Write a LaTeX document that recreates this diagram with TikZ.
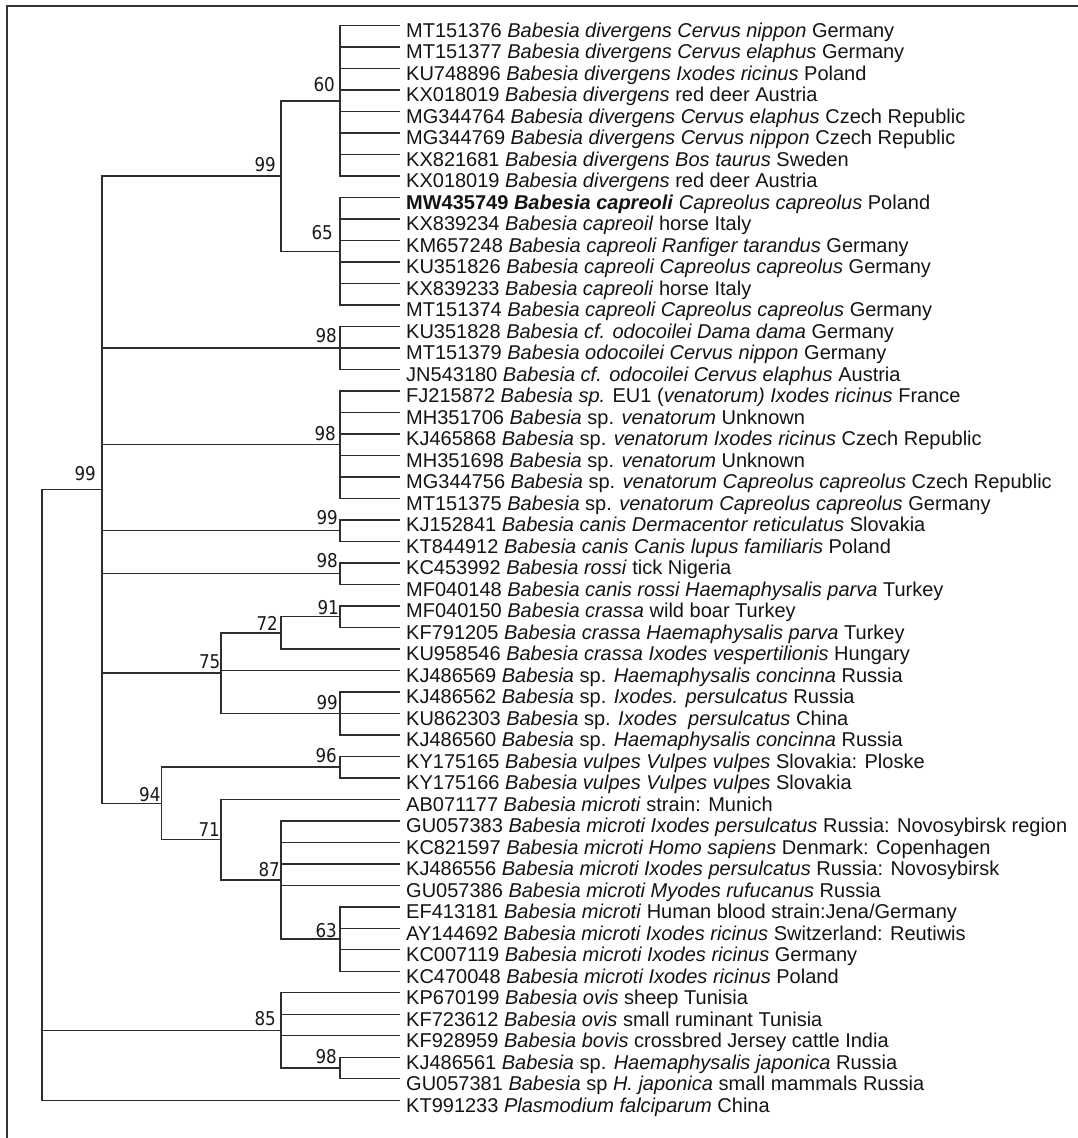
\documentclass[tikz,border=0pt]{standalone}
\usepackage{fontspec}
\setmainfont{Liberation Sans}
\newfontfamily\bsfont[FakeStretch=0.88]{DejaVu Sans}
\begin{document}
\begin{tikzpicture}[x=1pt,y=-1pt,
  br/.style={draw=black!82, line width=1.4pt, line cap=rect},
  leaf/.style={anchor=base west, inner sep=0pt, font=\fontsize{20}{24}\selectfont, text=black!92},
  bs/.style={anchor=south east, inner sep=0pt, font=\bsfont\fontsize{19}{22}\selectfont, text=black!90},
  frameline/.style={draw=black!80, line width=1.3pt}]
\useasboundingbox (0,0) rectangle (1078,1138);
\draw[frameline] (7,1138) -- (7,6) -- (1078,6);
% internal nodes
\coordinate (root) at (42,794.98);
\coordinate (n99a) at (102,489.75);
\coordinate (n99b) at (281,176.13);
\coordinate (n60) at (340,100.9);
\coordinate (n65) at (340,251.35);
\coordinate (n98a) at (340,348.05);
\coordinate (n98b) at (340,444.76);
\coordinate (n99c) at (340,530.72);
\coordinate (n98c) at (340,573.7);
\coordinate (n75) at (221,673.09);
\coordinate (n72) at (281,632.8);
\coordinate (n91) at (340,616.68);
\coordinate (n99d) at (340,713.38);
\coordinate (n94) at (161.7,803.37);
\coordinate (n96) at (340,767.1);
\coordinate (n71) at (221,839.63);
\coordinate (n87) at (281,879.93);
\coordinate (n63) at (340,939.03);
\coordinate (n85) at (281,1030.36);
\coordinate (n98d) at (340,1067.97);
% internal edges
\foreach \p/\c in {root/n99a, root/n85, n99a/n99b, n99a/n98a, n99a/n98b, n99a/n99c, n99a/n98c, n99a/n75, n99a/n94,
  n99b/n60, n99b/n65, n75/n72, n75/n99d, n72/n91, n94/n96, n94/n71, n71/n87, n87/n63, n85/n98d}
  \draw[br] (\p) |- (\c);
% leaves
\foreach \i/\p/\t in {
 1/n60/{MT151376 \textit{Babesia divergens Cervus nippon} Germany},
 2/n60/{MT151377 \textit{Babesia divergens Cervus elaphus} Germany},
 3/n60/{KU748896 \textit{Babesia divergens Ixodes ricinus} Poland},
 4/n60/{KX018019 \textit{Babesia divergens} red deer Austria},
 5/n60/{MG344764 \textit{Babesia divergens Cervus elaphus} Czech Republic},
 6/n60/{MG344769 \textit{Babesia divergens Cervus nippon} Czech Republic},
 7/n60/{KX821681 \textit{Babesia divergens Bos taurus} Sweden},
 8/n60/{KX018019 \textit{Babesia divergens} red deer Austria},
 9/n65/{\textbf{MW435749 \textit{Babesia capreoli}} \textit{Capreolus capreolus} Poland},
 10/n65/{KX839234 \textit{Babesia capreoil} horse Italy},
 11/n65/{KM657248 \textit{Babesia capreoli Ranfiger tarandus} Germany},
 12/n65/{KU351826 \textit{Babesia capreoli Capreolus capreolus} Germany},
 13/n65/{KX839233 \textit{Babesia capreoli} horse Italy},
 14/n65/{MT151374 \textit{Babesia capreoli Capreolus capreolus} Germany},
 15/n98a/{KU351828 \textit{Babesia cf. odocoilei Dama dama} Germany},
 16/n98a/{MT151379 \textit{Babesia odocoilei Cervus nippon} Germany},
 17/n98a/{JN543180 \textit{Babesia cf. odocoilei Cervus elaphus} Austria},
 18/n98b/{FJ215872 \textit{Babesia sp.} EU1 (\textit{venatorum) Ixodes ricinus} France},
 19/n98b/{MH351706 \textit{Babesia} sp. \textit{venatorum} Unknown},
 20/n98b/{KJ465868 \textit{Babesia} sp. \textit{venatorum Ixodes ricinus} Czech Republic},
 21/n98b/{MH351698 \textit{Babesia} sp. \textit{venatorum} Unknown},
 22/n98b/{MG344756 \textit{Babesia} sp. \textit{venatorum Capreolus capreolus} Czech Republic},
 23/n98b/{MT151375 \textit{Babesia} sp. \textit{venatorum Capreolus capreolus} Germany},
 24/n99c/{KJ152841 \textit{Babesia canis Dermacentor reticulatus} Slovakia},
 25/n99c/{KT844912 \textit{Babesia canis Canis lupus familiaris} Poland},
 26/n98c/{KC453992 \textit{Babesia rossi} tick Nigeria},
 27/n98c/{MF040148 \textit{Babesia canis rossi Haemaphysalis parva} Turkey},
 28/n91/{MF040150 \textit{Babesia crassa} wild boar Turkey},
 29/n91/{KF791205 \textit{Babesia crassa Haemaphysalis parva} Turkey},
 30/n72/{KU958546 \textit{Babesia crassa Ixodes vespertilionis} Hungary},
 31/n75/{KJ486569 \textit{Babesia} sp. \textit{Haemaphysalis concinna} Russia},
 32/n99d/{KJ486562 \textit{Babesia} sp. \textit{Ixodes. persulcatus} Russia},
 33/n99d/{KU862303 \textit{Babesia} sp. \textit{Ixodes~\ persulcatus} China},
 34/n99d/{KJ486560 \textit{Babesia} sp. \textit{Haemaphysalis concinna} Russia},
 35/n96/{KY175165 \textit{Babesia vulpes Vulpes vulpes} Slovakia: Ploske},
 36/n96/{KY175166 \textit{Babesia vulpes Vulpes vulpes} Slovakia},
 37/n71/{AB071177 \textit{Babesia microti} strain: Munich},
 38/n87/{GU057383 \textit{Babesia microti Ixodes persulcatus} Russia: Novosybirsk region},
 39/n87/{KC821597 \textit{Babesia microti Homo sapiens} Denmark: Copenhagen},
 40/n87/{KJ486556 \textit{Babesia microti Ixodes persulcatus} Russia: Novosybirsk},
 41/n87/{GU057386 \textit{Babesia microti Myodes rufucanus} Russia},
 42/n63/{EF413181 \textit{Babesia microti} Human blood strain:Jena/Germany},
 43/n63/{AY144692 \textit{Babesia microti Ixodes ricinus} Switzerland: Reutiwis},
 44/n63/{KC007119 \textit{Babesia microti Ixodes ricinus} Germany},
 45/n63/{KC470048 \textit{Babesia microti Ixodes ricinus} Poland},
 46/n85/{KP670199 \textit{Babesia ovis} sheep Tunisia},
 47/n85/{KF723612 \textit{Babesia ovis} small ruminant Tunisia},
 48/n85/{KF928959 \textit{Babesia bovis} crossbred Jersey cattle India},
 49/n98d/{KJ486561 \textit{Babesia} sp. \textit{Haemaphysalis japonica} Russia},
 50/n98d/{GU057381 \textit{Babesia} sp \textit{H. japonica} small mammals Russia},
 51/root/{KT991233 \textit{Plasmodium falciparum} China}} {
  \coordinate (l\i) at (399,{25.7+(\i-1)*21.49});
  \draw[br] (\p) |- (l\i);
  \node[leaf] (t\i) at ([shift={(7,11.8)}]l\i) {\t};
}
% bootstrap values
\foreach \n/\v/\dx/\dy in {n60/60/5/9.3, n99b/99/5/4.3, n65/65/7/11, n99a/99/6/8.3, n98a/98/3/5, n98b/98/4/3.3,
  n99c/99/2/6, n98c/98/2/6, n91/91/1/2, n72/72/3/2.3, n75/75/0.5/4, n99d/99/2/3, n96/96/3/4, n94/94/1/1.3,
  n71/71/1/2.7, n87/87/1/3.3, n63/63/3/1, n85/85/5/4, n98d/98/3/3.7}
  \node[bs] (b\n) at ([shift={(-\dx,-\dy)}]\n) {\v};
\end{tikzpicture}
\end{document}
